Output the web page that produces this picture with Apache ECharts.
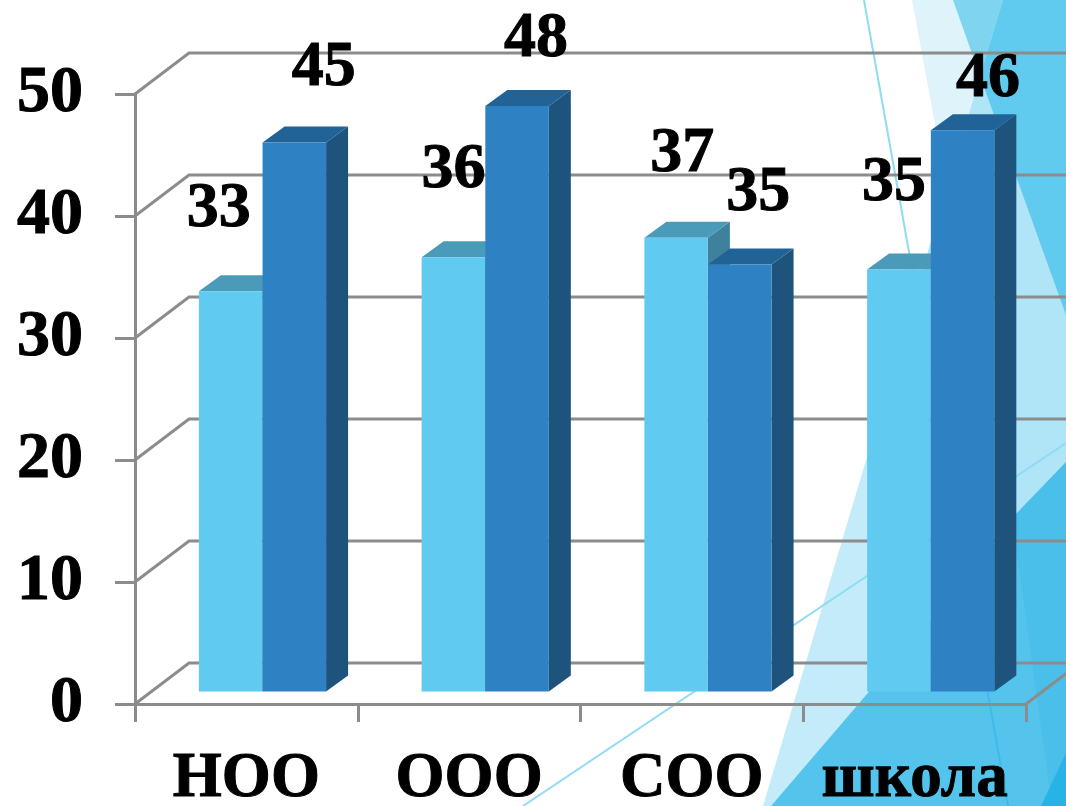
<!DOCTYPE html>
<html><head><meta charset="utf-8">
<style>html,body{margin:0;padding:0;background:#fff}#c{width:1066px;height:806px}</style>
<script src="https://cdn.jsdelivr.net/npm/echarts@6/dist/echarts.min.js"></script>
</head><body><div id="c"></div>
<script>
const categories = ['НОО', 'ООО', 'СОО', 'школа'];
const seriesA = [32.8, 35.6, 37.2, 34.6];
const seriesB = [45.0, 48.0, 35.0, 46.0];
const yTicks = [0, 10, 20, 30, 40, 50];

const FONT = '"Liberation Serif","Times New Roman",serif';
const GRID = '#8c8c8c';
const DEPTH = {dx: 54, dy: -41};
const BAR = {w: 63.5, dx: 22, dy: -16, lift: 12.5};
const A = {front: '#60caf0', side: '#3f809c', top: '#4a9aba', off: -47.5};
const B = {front: '#2e81c2', side: '#1e547c', top: '#226397', off: 16.2};
const labelNudge = {A: [[-12, -82], [0, -87], [6, -83], [-5, -86]], B: [[29.5, -74], [19, -66], [18.5, -71], [25.5, -51]]};

function barItem(style) {
  return function (params, api) {
    const i = api.value(0), v = api.value(1);
    const c = api.coord([i, v]), z = api.coord([i, 0]);
    const x = c[0] + style.off, x2 = x + BAR.w;
    const t = c[1] - BAR.lift, b = z[1] - BAR.lift;
    const poly = (pts, fill) => ({type: 'polygon', shape: {points: pts}, style: {fill}});
    return {type: 'group', children: [
      poly([[x2, t], [x2 + BAR.dx, t + BAR.dy], [x2 + BAR.dx, b + BAR.dy], [x2, b]], style.side),
      poly([[x, t], [x + BAR.dx, t + BAR.dy], [x2 + BAR.dx, t + BAR.dy], [x2, t]], style.top),
      poly([[x, t], [x2, t], [x2, b], [x, b]], style.front)
    ]};
  };
}
function labelItem(style, nudge) {
  return function (params, api) {
    const i = api.value(0), v = api.value(1);
    const c = api.coord([i, v]);
    return {type: 'text', style: {
      text: String(Math.round(v)),
      x: c[0] + style.off + BAR.w / 2 + nudge[i][0],
      y: c[1] - BAR.lift + nudge[i][1],
      align: 'center', verticalAlign: 'middle',
      font: 'bold 64px ' + FONT, fill: '#000', stroke: '#000', lineWidth: 1
    }};
  };
}
function wallItem(params, api) {
  const c = api.coord([0, api.value(1)]);
  const x0 = params.coordSys.x, x1 = x0 + params.coordSys.width;
  const y = c[1];
  const pts = [[x0, y], [x0 + DEPTH.dx, y + DEPTH.dy], [x1 + DEPTH.dx, y + DEPTH.dy]];
  if (api.value(1) === 0) pts.push([x1, y]);
  return {type: 'polyline', shape: {points: pts}, style: {stroke: GRID, lineWidth: 3, fill: null}};
}
const pair = arr => arr.map((v, i) => [i, v]);
const bg = (points, fill) => ({type: 'polygon', z: 0, silent: true, shape: {points}, style: {fill}});
const ln = (x1, y1, x2, y2, stroke) => ({type: 'line', z: 0, silent: true, shape: {x1, y1, x2, y2}, style: {stroke, lineWidth: 2}});

const chart = echarts.init(document.getElementById('c'));
chart.setOption({
  animation: false,
  backgroundColor: '#fff',
  graphic: {elements: [
    bg([[912, 0], [1003, 0], [947, 189]], '#dff3fb'),
    bg([[1003, 0], [1066, 0], [1066, 806], [763, 806]], '#c4ebf9'),
    bg([[1003, 0], [1066, 0], [1066, 806], [900, 806], [900, 345]], '#b0e4f7'),
    bg([[953, 0], [1003, 0], [980, 76]], '#7fd5f0'),
    bg([[1003, 0], [1066, 0], [1066, 315], [980, 76]], '#61caef'),
    ln(864, 0, 987.6, 692, '#8fdcf3'),
    ln(523, 806, 1066, 443, '#8fdcf3'),
    bg([[771, 806], [1066, 462], [1066, 806]], '#54c4ec'),
    bg([[1012, 518], [1066, 462], [1066, 806], [1052, 806]], '#4abfe9'),
    ln(987.6, 692, 1008, 806, '#3fbbe8'),
    bg([[1041, 806], [1066, 753], [1066, 806]], '#27b3e6')
  ]},
  grid: {left: 135, right: 40, top: 94, bottom: 102, containLabel: false, outerBoundsMode: 'none'},
  xAxis: {
    type: 'category', data: categories, z: 5,
    axisLine: {show: true, lineStyle: {color: GRID, width: 3}},
    axisTick: {show: true, length: 18, lineStyle: {color: GRID, width: 3}},
    axisLabel: {margin: 44, color: '#000', fontFamily: FONT, fontWeight: 'bold', fontSize: 63, interval: 0,
      textBorderColor: '#000', textBorderWidth: 1}
  },
  yAxis: {
    type: 'value', min: 0, max: 50, interval: 10, z: 5,
    axisLine: {show: true, lineStyle: {color: GRID, width: 3}},
    axisTick: {show: true, length: 20, lineStyle: {color: GRID, width: 3}},
    splitLine: {show: false},
    axisLabel: {margin: 52, color: '#000', fontFamily: FONT, fontWeight: 'bold', fontSize: 66,
      padding: [7, 0, 0, 0], textBorderColor: '#000', textBorderWidth: 1}
  },
  series: [
    {type: 'custom', name: 'walls', z: 2, silent: true, clip: false, renderItem: wallItem, data: yTicks.map(v => [0, v])},
    {type: 'custom', name: 'A', z: 6, silent: true, renderItem: barItem(A), data: pair(seriesA)},
    {type: 'custom', name: 'B', z: 7, silent: true, renderItem: barItem(B), data: pair(seriesB)},
    {type: 'custom', name: 'labelsA', z: 8, silent: true, renderItem: labelItem(A, labelNudge.A), data: pair(seriesA)},
    {type: 'custom', name: 'labelsB', z: 8, silent: true, renderItem: labelItem(B, labelNudge.B), data: pair(seriesB)}
  ]
});
</script></body></html>
